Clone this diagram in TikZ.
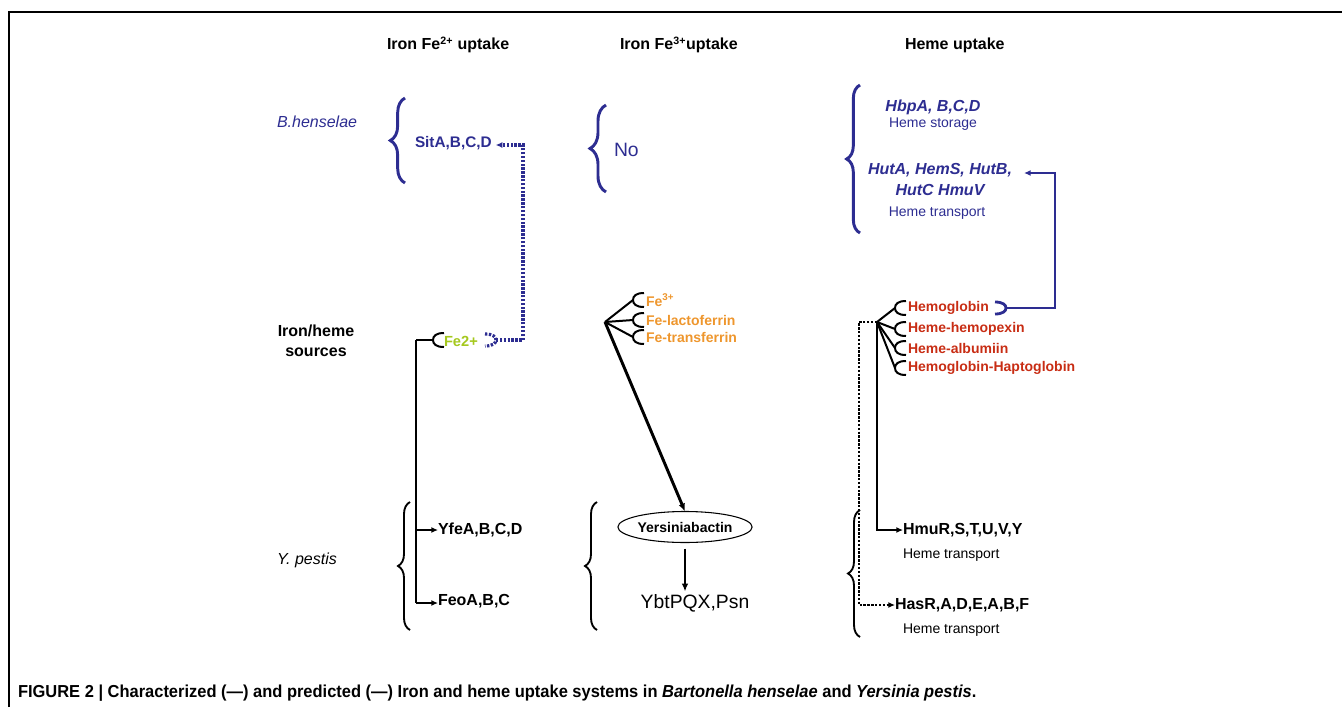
\documentclass[tikz,border=0pt]{standalone}
\usepackage{fontspec}
\setmainfont{Liberation Sans}
\newfontfamily\capfont[FakeStretch=0.95]{Liberation Sans}
\usetikzlibrary{arrows.meta,shapes.geometric,decorations.pathreplacing}
\definecolor{bhblue}{RGB}{45,45,145}
\definecolor{fered}{RGB}{200,45,20}
\definecolor{feorange}{RGB}{238,150,45}
\definecolor{fegreen}{RGB}{165,200,30}
\tikzset{
  every node/.style={inner sep=0pt,outer sep=0pt},
  hdr/.style={anchor=west,font=\fontsize{12}{14}\selectfont\bfseries},
  lbl/.style={anchor=west,font=\fontsize{12}{14}\selectfont},
  bgene/.style={text=bhblue,font=\fontsize{11.5}{14}\selectfont\bfseries},
  bigene/.style={text=bhblue,font=\fontsize{12}{14}\selectfont\bfseries\itshape},
  bsub/.style={text=bhblue,font=\fontsize{10.5}{12}\selectfont},
  kgene/.style={anchor=west,font=\fontsize{12}{14}\selectfont\bfseries},
  ksub/.style={anchor=west,font=\fontsize{10.5}{12}\selectfont},
  rsrc/.style={anchor=west,text=fered,font=\fontsize{10.5}{12}\selectfont\bfseries},
  osrc/.style={anchor=west,text=feorange,font=\fontsize{10.5}{12}\selectfont\bfseries},
  bluebrace/.style={bhblue,line width=2.2pt,decorate,decoration={brace,amplitude=#1}},
  blackbrace/.style={black,line width=1.4pt,decorate,decoration={brace,amplitude=#1}},
  kline/.style={black,line width=1.5pt},
  kdot/.style={black,line width=2.2pt,dash pattern=on 1.8pt off 1.1pt},
  bline/.style={bhblue,line width=2.1pt},
  bdot/.style={bhblue,line width=2.4pt,dash pattern=on 1.8pt off 1.1pt},
  tip/.style={-{Latex[length=5pt,width=4.5pt]}},
  cupR/.pic={\draw[pic actions] (11,-7) .. controls (3,-7) and (0,-4) .. (0,0) .. controls (0,4) and (3,7) .. (11,7);},
  cupL/.pic={\draw[pic actions] (-11,-6) .. controls (-3,-6) and (0,-3) .. (0,0) .. controls (0,3) and (-3,6) .. (-11,6);}
}
\begin{document}
\begin{tikzpicture}[x=0.75pt,y=-0.75pt]
\useasboundingbox (0,0) rectangle (1342,707);
% frame
\draw[line width=2.2pt] (9,707) -- (9,12) -- (1342,12);

% headers
\node[hdr] (h1) at (387,45) {Iron Fe\textsuperscript{2+} uptake};
\node[hdr] (h2) at (620,45) {Iron Fe\textsuperscript{3+}uptake};
\node[hdr] (h3) at (905,45) {Heme uptake};

% left labels
\node[anchor=west,text=bhblue,font=\fontsize{12}{14}\selectfont\itshape] (bh) at (277,122) {B.henselae};
\node[align=center,font=\fontsize{12}{15}\selectfont\bfseries] (src) at (316,341) {Iron/heme\\sources};
\node[lbl,font=\fontsize{12}{14}\selectfont\itshape] (yp) at (277,560) {Y. pestis};

% ---------- column 1 ----------
\draw[bluebrace=11pt] (405,183) -- (405,98);
\node[bgene,anchor=west] (sit) at (415,143) {SitA,B,C,D};
\node[anchor=west,text=fegreen,font=\fontsize{11}{13}\selectfont\bfseries] (fe2) at (444,341) {Fe2+};
\coordinate (k1) at (416,340);
\coordinate (c1) at (433,340);
\pic[kline] at (c1) {cupR};
\draw[kline] (k1) -- (c1);
\coordinate (bc1) at (496,340);
\pic[bdot] at (bc1) {cupL};
\coordinate (bt1) at (523,340);
\draw[bdot,tip] (bc1) -- (bt1) |- ([xshift=3pt,yshift=-1.5pt]sit.east);
\node[kgene] (yfe) at (438,530) {YfeA,B,C,D};
\node[kgene] (feo) at (438,601) {FeoA,B,C};
\coordinate (k1b) at (416,603);
\draw[kline] (k1) -- (k1b);
\draw[kline,tip] (k1 |- yfe.west) -- (yfe.west);
\draw[kline,tip] (k1b) -- (feo.west |- k1b);
\draw[blackbrace=9pt] (410,630) -- (410,502);

% ---------- column 2 ----------
\draw[bluebrace=12pt] (606,192) -- (606,105);
\node[anchor=west,text=bhblue,font=\fontsize{14.5}{16}\selectfont] (no) at (614,150) {No};
\coordinate (r2) at (605,322);
\coordinate (c2a) at (633,300);
\coordinate (c2b) at (633,320);
\coordinate (c2c) at (633,337);
\foreach \c in {c2a,c2b,c2c}{\pic[kline] at (\c) {cupR}; \draw[kline] (r2) -- (\c);}
\node[osrc] (fe3) at (646,300) {Fe\textsuperscript{3+}};
\node[osrc] (lac) at (646,320) {Fe-lactoferrin};
\node[osrc] (tra) at (646,337) {Fe-transferrin};
\node[draw,ellipse,line width=0.8pt,minimum width=79.5pt,minimum height=23.25pt,font=\fontsize{10.5}{12}\selectfont\bfseries] (ybn) at (685,527) {Yersiniabactin};
\draw[black,line width=2.2pt,-{Latex[length=6pt,width=5pt]}] (r2) -- (ybn.north);
\node[font=\fontsize{14.5}{16}\selectfont] (ybt) at (695,603) {YbtPQX,Psn};
\draw[black,line width=2pt,-{Latex[length=6pt,width=5pt]}] ([yshift=-4.5pt]ybn.south) -- ([xshift=-7.5pt,yshift=2pt]ybt.north);
\draw[blackbrace=9pt] (597,630) -- (597,502);

% ---------- column 3 ----------
\draw[bluebrace=10pt] (860,233) -- (860,85);
\node[bigene] (hbp) at (933,107) {HbpA, B,C,D};
\node[bsub] (hst) at (933,124) {Heme storage};
\node[bigene] (hut) at (940,170) {HutA, HemS, HutB,};
\node[bigene] (hmv) at (940,190) {HutC HmuV};
\node[bsub] (htr) at (937,213) {Heme transport};
\coordinate (r3) at (877,322);
\coordinate (c3a) at (895,308);
\coordinate (c3b) at (895,329);
\coordinate (c3c) at (895,348);
\coordinate (c3d) at (895,368);
\foreach \c in {c3a,c3b,c3c,c3d}{\pic[kline] at (\c) {cupR}; \draw[kline] (r3) -- (\c);}
\node[rsrc] (hgb) at (908,308) {Hemoglobin};
\node[rsrc] (hhx) at (908,329) {Heme-hemopexin};
\node[rsrc] (hal) at (908,348) {Heme-albumiin};
\node[rsrc] (hhp) at (908,368) {Hemoglobin-Haptoglobin};
\coordinate (bc3) at (1006,308);
\pic[bline] at (bc3) {cupL};
\coordinate (bt3) at (1055,308);
\draw[bline,tip] (bc3) -- (bt3) |- ([xshift=9pt,yshift=-2.25pt]hut.east);
\node[kgene] (hmu) at (903,530) {HmuR,S,T,U,V,Y};
\node[ksub] (ht1) at (903,555) {Heme transport};
\node[kgene] (has) at (895,605) {HasR,A,D,E,A,B,F};
\node[ksub] (ht2) at (903,630) {Heme transport};
\draw[kline,tip] (r3) |- (hmu.west);
\coordinate (d3) at (859,322);
\draw[kdot,tip] (r3) -- (d3) |- (has.west);
\draw[blackbrace=9pt] (860,637) -- (860,510);

% caption
\node[anchor=west] (cap) at (18,693) {\capfont\fontsize{13}{15}\selectfont\bfseries FIGURE 2 | Characterized (—) and predicted (—) Iron and heme uptake systems in \textit{Bartonella henselae} and \textit{Yersinia pestis}.};
\end{tikzpicture}
\end{document}
